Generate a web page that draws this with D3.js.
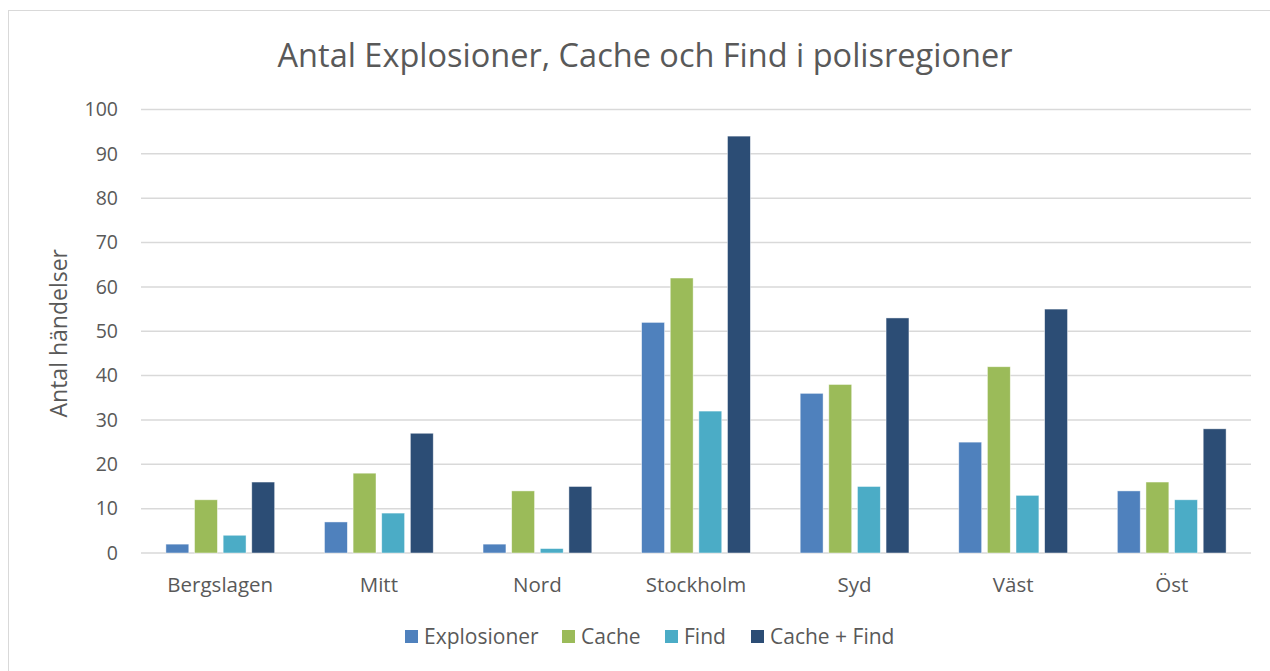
<!DOCTYPE html>
<html>
<head>
<meta charset="utf-8">
<script src="https://cdnjs.cloudflare.com/ajax/libs/d3/7.8.5/d3.min.js"></script>
<style>
  body { margin: 0; background: #fff; }
  svg text { font-family: "Open Sans", sans-serif; fill: #595959; }
</style>
</head>
<body>
<svg id="chart" width="1270" height="671"></svg>
<script>
var regions = ["Bergslagen", "Mitt", "Nord", "Stockholm", "Syd", "Väst", "Öst"];
var seriesNames = ["Explosioner", "Cache", "Find", "Cache + Find"];
var explosioner = [2, 7, 2, 52, 36, 25, 14];
var cache = [12, 18, 14, 62, 38, 42, 16];
var find = [4, 9, 1, 32, 15, 13, 12];
var cacheFind = [16, 27, 15, 94, 53, 55, 28];
var yTicks = [0, 10, 20, 30, 40, 50, 60, 70, 80, 90, 100];
var colors = ["#4f81bd", "#9bbb59", "#4bacc6", "#2c4d75"];

var svg = d3.select("#chart");
var margin = {left: 141, right: 1251, top: 109.5, bottom: 553};

// chart frame
svg.append("rect").attr("x", 8.5).attr("y", 10.5).attr("width", 1270).attr("height", 680)
  .attr("fill", "none").attr("stroke", "#d9d9d9").attr("stroke-width", 1);

var x0 = d3.scaleBand().domain(regions).range([margin.left, margin.right]);
var x1 = d3.scaleBand().domain(seriesNames).range([0, x0.bandwidth()])
  .paddingInner(0.2).paddingOuter(0.87);
var y = d3.scaleLinear().domain([0, 100]).range([margin.bottom, margin.top]);

// gridlines
svg.append("g").selectAll("line").data(yTicks).enter().append("line")
  .attr("x1", margin.left).attr("x2", margin.right)
  .attr("y1", function(d) { return y(d); }).attr("y2", function(d) { return y(d); })
  .attr("stroke", "#d9d9d9").attr("stroke-width", 1.5);

// y tick labels
svg.append("g").selectAll("text").data(yTicks).enter().append("text")
  .attr("x", 118).attr("y", function(d) { return y(d); })
  .attr("dy", "0.35em").attr("text-anchor", "end")
  .style("font-size", "19.5px")
  .text(function(d) { return d; });

// bars
var table = regions.map(function(r, i) {
  return [explosioner[i], cache[i], find[i], cacheFind[i]];
});
var groups = svg.append("g").selectAll("g").data(table).enter().append("g")
  .attr("transform", function(d, i) { return "translate(" + x0(regions[i]) + ",0)"; });
groups.selectAll("rect").data(function(d) { return d; }).enter().append("rect")
  .attr("x", function(d, j) { return x1(seriesNames[j]); })
  .attr("y", function(d) { return y(d); })
  .attr("width", x1.bandwidth())
  .attr("height", function(d) { return y(0) - y(d); })
  .attr("fill", function(d, j) { return colors[j]; })
  .attr("stroke", "#ffffff").attr("stroke-opacity", 0.6).attr("stroke-width", 0.75);

// category labels
svg.append("g").selectAll("text").data(regions).enter().append("text")
  .attr("x", function(d) { return x0(d) + x0.bandwidth() / 2; })
  .attr("y", 592).attr("text-anchor", "middle")
  .style("font-size", "20.5px")
  .text(function(d) { return d; });

// y axis title
svg.append("text")
  .attr("transform", "translate(67," + ((margin.top + margin.bottom) / 2 + 2) + ") rotate(-90)")
  .attr("text-anchor", "middle")
  .style("font-size", "23px")
  .text("Antal händelser");

// chart title
svg.append("text")
  .attr("x", 645).attr("y", 67).attr("text-anchor", "middle")
  .style("font-size", "32.5px")
  .text("Antal Explosioner, Cache och Find i polisregioner");

// legend
var legendX = [405, 562, 665, 751];
var legend = svg.append("g").selectAll("g").data(seriesNames).enter().append("g")
  .attr("transform", function(d, i) { return "translate(" + legendX[i] + ",630)"; });
legend.append("rect").attr("width", 13).attr("height", 13)
  .attr("fill", function(d, i) { return colors[i]; });
legend.append("text").attr("x", 19).attr("y", 6.5).attr("dy", "0.36em")
  .style("font-size", "21px")
  .text(function(d) { return d; });
</script>
</body>
</html>
